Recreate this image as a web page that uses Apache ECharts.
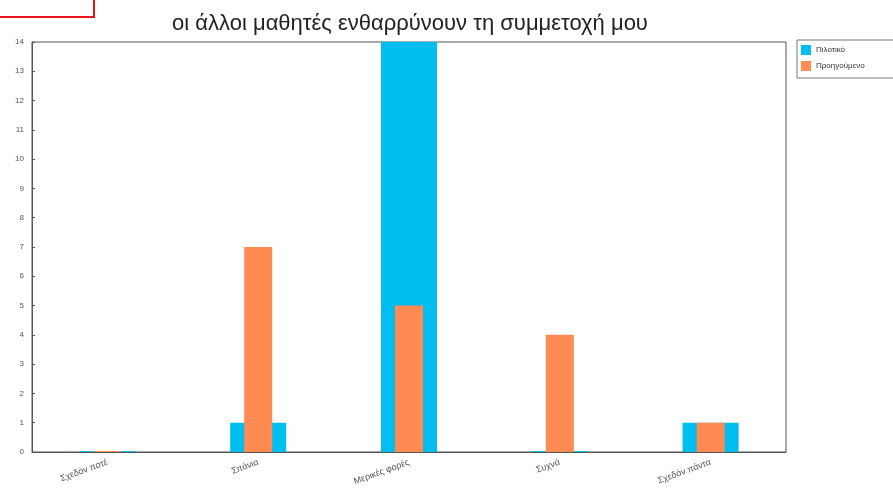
<!DOCTYPE html>
<html>
<head>
<meta charset="utf-8">
<script src="https://cdn.jsdelivr.net/npm/echarts@6/dist/echarts.min.js"></script>
<style>
  html, body { margin: 0; padding: 0; background: #fff; }
  #chart { width: 893px; height: 494px; }
</style>
</head>
<body>
<div id="chart"></div>
<script>
// Answer categories along the x axis
const categories = ['Σχεδόν ποτέ', 'Σπάνια', 'Μερικές φορές', 'Συχνά', 'Σχεδόν πάντα'];
// Counts per group
const seriesNames = ['Πιλοτικό', 'Προηγούμενο'];
const pilotValues = [0, 1, 14, 0, 1];
const previousValues = [0, 7, 5, 4, 1];
// Y axis range
const yMin = 0;
const yMax = 14;
const yStep = 1;

const chart = echarts.init(document.getElementById('chart'));

const labelFont = { fontFamily: 'Liberation Sans, Arial, sans-serif', fontSize: 8, color: '#555' };

chart.setOption({
  animation: false,
  backgroundColor: '#fff',
  title: {
    text: 'οι άλλοι μαθητές ενθαρρύνουν τη συμμετοχή μου',
    left: 405,
    textAlign: 'center',
    top: 8,
    textStyle: { fontFamily: 'Liberation Sans, Arial, sans-serif', fontSize: 22, fontWeight: 'normal', color: '#222' }
  },
  graphic: [
    {
      type: 'rect',
      shape: { x: -2, y: -2, width: 96, height: 19 },
      style: { fill: 'none', stroke: '#e8161b', lineWidth: 2 }
    }
  ],
  legend: {
    orient: 'vertical',
    left: 797,
    top: 40,
    icon: 'rect',
    itemWidth: 10,
    itemHeight: 10,
    itemGap: 6,
    padding: [5, 40, 7, 4],
    borderColor: '#777',
    borderWidth: 1,
    data: seriesNames,
    textStyle: { fontFamily: 'Liberation Sans, Arial, sans-serif', fontSize: 8, color: '#333' }
  },
  grid: {
    left: 32, right: 107, top: 42, bottom: 42,
    show: true, borderColor: '#555', borderWidth: 1
  },
  xAxis: [
    {
      type: 'category',
      data: categories,
      axisLine: { lineStyle: { color: '#555' } },
      axisTick: { show: false },
      axisLabel: Object.assign({ rotate: 20, margin: 10 }, labelFont, { fontSize: 9 })
    },
    {
      type: 'category',
      data: categories,
      show: false
    }
  ],
  yAxis: {
    type: 'value',
    min: yMin,
    max: yMax,
    interval: yStep,
    axisLine: { show: true, lineStyle: { color: '#555' } },
    axisTick: { show: true, inside: true, length: 3, lineStyle: { color: '#555' } },
    splitLine: { show: false },
    axisLabel: Object.assign({ margin: 8 }, labelFont)
  },
  series: [
    {
      name: seriesNames[0],
      type: 'bar',
      xAxisIndex: 0,
      data: pilotValues,
      barWidth: 56,
      barMinHeight: 1,
      itemStyle: { color: '#00bff0' }
    },
    {
      name: seriesNames[1],
      type: 'bar',
      xAxisIndex: 1,
      data: previousValues,
      barWidth: 28,
      barMinHeight: 1,
      itemStyle: { color: '#ff8a52' }
    }
  ]
});
</script>
</body>
</html>
